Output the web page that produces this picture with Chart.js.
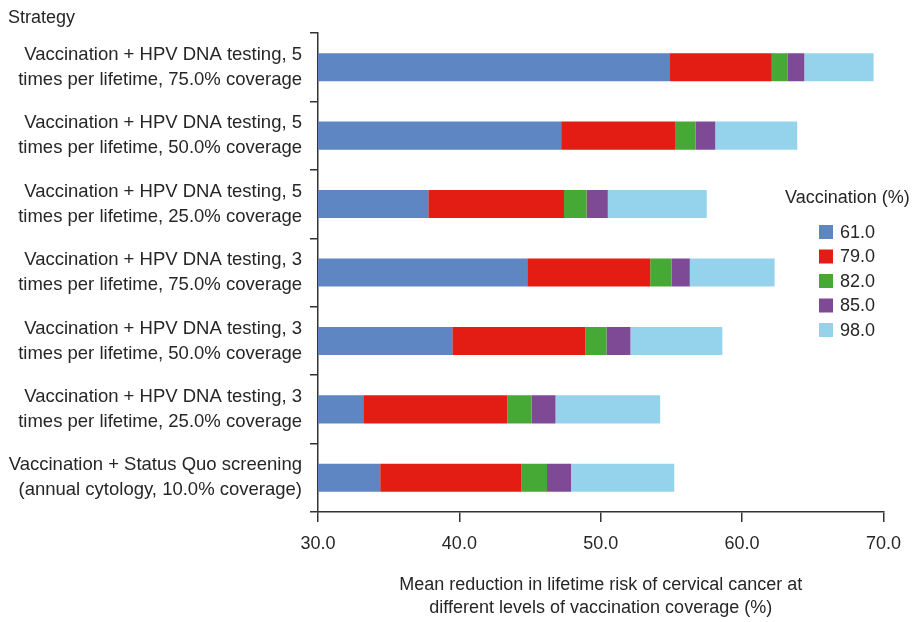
<!DOCTYPE html>
<html>
<head>
<meta charset="utf-8">
<script src="https://cdn.jsdelivr.net/npm/chart.js@4.4.0/dist/chart.umd.min.js"></script>
<style>
  html, body { margin: 0; padding: 0; background: #fff; }
  #wrap { position: relative; width: 912px; height: 622px; }
</style>
</head>
<body>
<div id="wrap"><canvas id="chart"></canvas></div>
<script>
// Strategies, top bar first.
const strategies = [
    ['Vaccination + HPV DNA testing, 5', 'times per lifetime, 75.0% coverage'],
    ['Vaccination + HPV DNA testing, 5', 'times per lifetime, 50.0% coverage'],
    ['Vaccination + HPV DNA testing, 5', 'times per lifetime, 25.0% coverage'],
    ['Vaccination + HPV DNA testing, 3', 'times per lifetime, 75.0% coverage'],
    ['Vaccination + HPV DNA testing, 3', 'times per lifetime, 50.0% coverage'],
    ['Vaccination + HPV DNA testing, 3', 'times per lifetime, 25.0% coverage'],
    ['Vaccination + Status Quo screening', '(annual cytology, 10.0% coverage)']
];

const vaccinationLevels = ['61.0', '79.0', '82.0', '85.0', '98.0'];

// Mean reduction in lifetime risk (%) reached at each vaccination level.
const reduction61 = [54.9, 47.2, 37.8, 44.8, 39.5, 33.2, 34.4];
const reduction79 = [62.1, 55.3, 47.4, 53.5, 48.9, 43.4, 44.4];
const reduction82 = [63.2, 56.7, 49.0, 55.0, 50.4, 45.1, 46.2];
const reduction85 = [64.4, 58.1, 50.5, 56.3, 52.1, 46.8, 47.9];
const reduction98 = [69.3, 63.9, 57.5, 62.3, 58.6, 54.2, 55.2];

const xTicks = [30, 40, 50, 60, 70];

const levelColors = ['#5e86c3', '#e31d13', '#47a935', '#7e4a96', '#95d3ec'];
const textColor = '#262626';
const lineColor = '#333333';
const fontFamily = '"Liberation Sans", Arial, Helvetica, sans-serif';

const series = [reduction61, reduction79, reduction82, reduction85, reduction98];

// Each segment runs from the previous level's value to this level's value.
const datasets = series.map((values, i) => ({
    label: vaccinationLevels[i],
    data: values.map((v, j) => i === 0 ? [xTicks[0], v] : [series[i - 1][j], v]),
    backgroundColor: levelColors[i],
    borderWidth: 0,
    barPercentage: 0.41,
    categoryPercentage: 1.0,
    grouped: false
}));

// Legend and the "Strategy" heading, drawn by hand.
const extrasPlugin = {
    id: 'extras',
    afterDraw(chart) {
        const ctx = chart.ctx;
        ctx.save();
        ctx.font = '18px ' + fontFamily;
        ctx.textBaseline = 'middle';
        ctx.textAlign = 'left';
        ctx.fillStyle = textColor;
        ctx.fillText('Strategy', 8, 18);
        ctx.fillText('Vaccination (%)', 785, 198);

        chart.data.datasets.forEach((ds, i) => {
            const y = 232 + i * 24.5;
            ctx.fillStyle = ds.backgroundColor;
            ctx.fillRect(819, y - 7, 14, 14);
            ctx.fillStyle = textColor;
            ctx.fillText(ds.label, 840, y + 1);
        });
        ctx.restore();
    }
};

const canvas = document.getElementById('chart');

let config = {
    type: 'bar',
    data: {
        labels: strategies,
        datasets: datasets
    },
    options: {
        indexAxis: 'y',
        responsive: true,
        maintainAspectRatio: false,
        animation: false,
        layout: {
            padding: { left: 0, right: 27, top: 30, bottom: 0 }
        },
        plugins: {
            legend: { display: false },
            tooltip: { enabled: false }
        },
        scales: {
            x: {
                type: 'linear',
                min: xTicks[0],
                max: xTicks[xTicks.length - 1],
                afterBuildTicks: (scale) => {
                    scale.ticks = xTicks.map(v => ({ value: v }));
                },
                afterFit: (scale) => {
                    scale.height = 110;
                },
                grid: {
                    drawOnChartArea: false,
                    drawTicks: true,
                    tickLength: 10,
                    color: lineColor,
                    lineWidth: 1.5
                },
                border: { display: true, color: lineColor, width: 1.5 },
                ticks: {
                    padding: 11,
                    color: textColor,
                    font: { family: fontFamily, size: 18 },
                    maxRotation: 0,
                    callback: (v) => Number(v).toFixed(1)
                },
                title: {
                    display: true,
                    text: ['Mean reduction in lifetime risk of cervical cancer at',
                           'different levels of vaccination coverage (%)'],
                    color: textColor,
                    font: { family: fontFamily, size: 18, lineHeight: 1.25 },
                    padding: { top: 0, bottom: 3 }
                }
            },
            y: {
                type: 'category',
                afterFit: (scale) => {
                    scale.width = 318;
                },
                grid: {
                    offset: true,
                    drawOnChartArea: false,
                    drawTicks: true,
                    tickLength: 8,
                    color: lineColor,
                    lineWidth: 1.5
                },
                border: { display: true, color: lineColor, width: 1.5 },
                ticks: {
                    padding: 8,
                    color: textColor,
                    font: { family: fontFamily, size: 18.5, lineHeight: 1.35 },
                    autoSkip: false
                }
            }
        }
    },
    plugins: [extrasPlugin]
};

new Chart(canvas, config);
</script>
</body>
</html>
